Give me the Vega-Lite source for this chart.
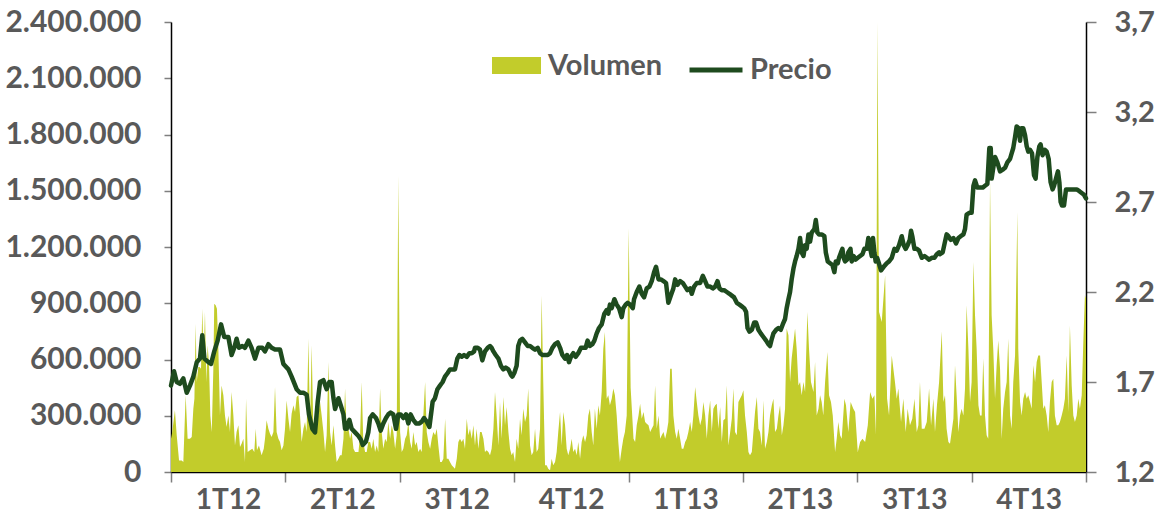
{
"$schema": "https://vega.github.io/schema/vega-lite/v6.json",
"width": 915, "height": 450,
"autosize": {"type": "none"},
"padding": {"left": 171, "top": 22, "right": 78, "bottom": 47},
"background": "white",
"config": {
  "locale": {"number": {"decimal": ",", "thousands": ".", "grouping": [3], "currency": ["", " €"]}},
  "view": {"stroke": null},
  "axis": {"grid": false, "labelFont": "Lato", "labelFontWeight": "bold", "labelColor": "#595959", "domainColor": "#000000", "domainWidth": 1.5, "tickColor": "#7f7f7f", "tickWidth": 1.5, "title": null}
},
"datasets": {
"vol": [
{"dia":0,"volumen":178000},{"dia":0.7,"volumen":213000},{"dia":2.2,"volumen":329000},{"dia":3.2,"volumen":196000},{"dia":4.5,"volumen":62000},{"dia":6.0,"volumen":62000},{"dia":6.9,"volumen":53000},{"dia":8.2,"volumen":409000},{"dia":9.3,"volumen":178000},{"dia":10.6,"volumen":178000},{"dia":11.6,"volumen":187000},{"dia":12.5,"volumen":338000},{"dia":13.1,"volumen":391000},{"dia":13.8,"volumen":791000},{"dia":14.4,"volumen":480000},{"dia":15.3,"volumen":560000},{"dia":16.0,"volumen":560000},{"dia":16.8,"volumen":551000},{"dia":17.5,"volumen":871000},{"dia":18.3,"volumen":605000},{"dia":19.0,"volumen":853000},{"dia":19.8,"volumen":480000},{"dia":20.5,"volumen":676000},{"dia":21.3,"volumen":569000},{"dia":22.0,"volumen":302000},{"dia":22.8,"volumen":213000},{"dia":23.7,"volumen":551000},{"dia":24.2,"volumen":898000},{"dia":25.0,"volumen":889000},{"dia":25.7,"volumen":871000},{"dia":26.5,"volumen":658000},{"dia":27.4,"volumen":302000},{"dia":28.3,"volumen":462000},{"dia":29.3,"volumen":409000},{"dia":30.2,"volumen":302000},{"dia":31.1,"volumen":240000},{"dia":32.1,"volumen":302000},{"dia":33.0,"volumen":213000},{"dia":33.9,"volumen":427000},{"dia":34.9,"volumen":302000},{"dia":35.8,"volumen":142000},{"dia":36.7,"volumen":213000},{"dia":37.7,"volumen":249000},{"dia":38.6,"volumen":133000},{"dia":39.5,"volumen":151000},{"dia":40.5,"volumen":178000},{"dia":41.4,"volumen":53000},{"dia":42.0,"volumen":391000},{"dia":42.9,"volumen":107000},{"dia":44.2,"volumen":116000},{"dia":45.5,"volumen":124000},{"dia":46.6,"volumen":107000},{"dia":47.4,"volumen":231000},{"dia":48.1,"volumen":116000},{"dia":49.2,"volumen":142000},{"dia":50.7,"volumen":89000},{"dia":51.9,"volumen":124000},{"dia":52.6,"volumen":178000},{"dia":53.5,"volumen":276000},{"dia":54.5,"volumen":231000},{"dia":55.4,"volumen":204000},{"dia":56.3,"volumen":187000},{"dia":57.3,"volumen":213000},{"dia":58.2,"volumen":453000},{"dia":59.1,"volumen":213000},{"dia":60.1,"volumen":178000},{"dia":61.0,"volumen":160000},{"dia":61.9,"volumen":116000},{"dia":62.9,"volumen":142000},{"dia":63.8,"volumen":231000},{"dia":64.7,"volumen":382000},{"dia":65.7,"volumen":284000},{"dia":66.6,"volumen":213000},{"dia":67.5,"volumen":311000},{"dia":68.5,"volumen":356000},{"dia":69.4,"volumen":320000},{"dia":70.3,"volumen":400000},{"dia":71.3,"volumen":409000},{"dia":72.2,"volumen":302000},{"dia":73.1,"volumen":160000},{"dia":74.1,"volumen":231000},{"dia":75.0,"volumen":267000},{"dia":75.9,"volumen":213000},{"dia":76.9,"volumen":711000},{"dia":77.8,"volumen":231000},{"dia":78.7,"volumen":676000},{"dia":79.6,"volumen":249000},{"dia":80.6,"volumen":302000},{"dia":81.5,"volumen":267000},{"dia":82.4,"volumen":302000},
{"dia":83.4,"volumen":373000},{"dia":84.3,"volumen":302000},{"dia":85.3,"volumen":213000},{"dia":86.2,"volumen":107000},{"dia":87.1,"volumen":196000},{"dia":88.1,"volumen":587000},{"dia":89.0,"volumen":213000},{"dia":89.9,"volumen":142000},{"dia":90.9,"volumen":249000},{"dia":91.8,"volumen":142000},{"dia":92.7,"volumen":53000},{"dia":93.7,"volumen":71000},{"dia":94.6,"volumen":89000},{"dia":95.5,"volumen":89000},{"dia":96.5,"volumen":178000},{"dia":97.4,"volumen":445000},{"dia":98.3,"volumen":213000},{"dia":99.3,"volumen":231000},{"dia":100.2,"volumen":178000},{"dia":101.1,"volumen":213000},{"dia":102.1,"volumen":124000},{"dia":103.0,"volumen":107000},{"dia":103.9,"volumen":107000},{"dia":104.9,"volumen":107000},{"dia":105.8,"volumen":196000},{"dia":106.7,"volumen":480000},{"dia":107.6,"volumen":160000},{"dia":108.6,"volumen":107000},{"dia":109.5,"volumen":107000},{"dia":110.4,"volumen":160000},{"dia":111.4,"volumen":160000},{"dia":112.3,"volumen":124000},{"dia":113.2,"volumen":178000},{"dia":114.2,"volumen":107000},{"dia":115.1,"volumen":142000},{"dia":116.0,"volumen":107000},{"dia":117.0,"volumen":445000},{"dia":117.9,"volumen":213000},{"dia":118.8,"volumen":124000},{"dia":119.8,"volumen":178000},{"dia":120.7,"volumen":160000},{"dia":121.6,"volumen":267000},{"dia":122.6,"volumen":178000},{"dia":123.5,"volumen":249000},{"dia":124.4,"volumen":213000},{"dia":125.4,"volumen":124000},{"dia":126.3,"volumen":196000},{"dia":127.2,"volumen":1580000},{"dia":128.2,"volumen":213000},{"dia":129.1,"volumen":107000},{"dia":130.0,"volumen":124000},{"dia":131.0,"volumen":178000},{"dia":131.9,"volumen":196000},{"dia":132.8,"volumen":267000},{"dia":133.8,"volumen":160000},{"dia":134.7,"volumen":124000},{"dia":135.6,"volumen":213000},{"dia":136.6,"volumen":142000},{"dia":137.5,"volumen":160000},{"dia":138.4,"volumen":107000},{"dia":139.4,"volumen":124000},{"dia":140.3,"volumen":107000},{"dia":141.2,"volumen":302000},{"dia":142.2,"volumen":480000},{"dia":143.1,"volumen":213000},{"dia":144.0,"volumen":160000},{"dia":145.0,"volumen":124000},{"dia":145.9,"volumen":178000},{"dia":146.8,"volumen":213000},{"dia":147.8,"volumen":196000},{"dia":148.7,"volumen":231000},{"dia":149.6,"volumen":142000},{"dia":150.6,"volumen":53000},{"dia":151.5,"volumen":53000},{"dia":152.4,"volumen":71000},{"dia":153.4,"volumen":284000},{"dia":154.3,"volumen":71000},{"dia":155.2,"volumen":71000},{"dia":156.1,"volumen":53000},{"dia":157.1,"volumen":36000},{"dia":158.0,"volumen":27000},{"dia":158.9,"volumen":18000},{"dia":159.9,"volumen":71000},{"dia":160.8,"volumen":160000},{"dia":161.7,"volumen":178000},{"dia":162.7,"volumen":160000},{"dia":163.6,"volumen":178000},{"dia":164.5,"volumen":124000},{"dia":165.5,"volumen":284000},{"dia":166.4,"volumen":196000},{"dia":167.3,"volumen":231000},{"dia":168.3,"volumen":178000},{"dia":169.2,"volumen":249000},
{"dia":170.1,"volumen":142000},{"dia":171.0,"volumen":231000},{"dia":172.0,"volumen":124000},{"dia":172.9,"volumen":213000},{"dia":173.8,"volumen":213000},{"dia":174.8,"volumen":178000},{"dia":175.7,"volumen":107000},{"dia":176.6,"volumen":116000},{"dia":177.6,"volumen":107000},{"dia":178.5,"volumen":89000},{"dia":179.4,"volumen":124000},{"dia":180.4,"volumen":231000},{"dia":181.3,"volumen":427000},{"dia":182.2,"volumen":302000},{"dia":183.2,"volumen":142000},{"dia":184.1,"volumen":373000},{"dia":185.0,"volumen":178000},{"dia":186.0,"volumen":400000},{"dia":186.9,"volumen":249000},{"dia":187.8,"volumen":347000},{"dia":188.8,"volumen":213000},{"dia":189.7,"volumen":124000},{"dia":190.6,"volumen":89000},{"dia":191.5,"volumen":107000},{"dia":192.5,"volumen":53000},{"dia":193.4,"volumen":178000},{"dia":194.3,"volumen":124000},{"dia":195.3,"volumen":284000},{"dia":196.2,"volumen":196000},{"dia":197.1,"volumen":338000},{"dia":198.1,"volumen":267000},{"dia":199.0,"volumen":302000},{"dia":199.9,"volumen":445000},{"dia":200.9,"volumen":142000},{"dia":201.8,"volumen":89000},{"dia":202.7,"volumen":107000},{"dia":203.7,"volumen":231000},{"dia":204.6,"volumen":107000},{"dia":205.5,"volumen":124000},{"dia":206.5,"volumen":231000},{"dia":207.4,"volumen":942000},{"dia":208.3,"volumen":480000},{"dia":209.3,"volumen":36000},{"dia":210.2,"volumen":36000},{"dia":211.1,"volumen":18000},{"dia":212.1,"volumen":9000},{"dia":213.0,"volumen":71000},{"dia":213.9,"volumen":36000},{"dia":214.9,"volumen":53000},{"dia":215.8,"volumen":107000},{"dia":216.7,"volumen":213000},{"dia":217.7,"volumen":320000},{"dia":218.6,"volumen":142000},{"dia":219.5,"volumen":320000},{"dia":220.5,"volumen":249000},{"dia":221.4,"volumen":124000},{"dia":222.3,"volumen":89000},{"dia":223.3,"volumen":124000},{"dia":224.2,"volumen":178000},{"dia":225.1,"volumen":107000},{"dia":226.1,"volumen":124000},{"dia":227.0,"volumen":89000},{"dia":227.9,"volumen":160000},{"dia":228.9,"volumen":71000},{"dia":229.8,"volumen":160000},{"dia":230.7,"volumen":196000},{"dia":231.7,"volumen":160000},{"dia":232.6,"volumen":196000},{"dia":233.5,"volumen":302000},{"dia":234.4,"volumen":338000},{"dia":235.4,"volumen":213000},{"dia":236.3,"volumen":142000},{"dia":237.2,"volumen":338000},{"dia":238.2,"volumen":231000},{"dia":239.1,"volumen":356000},{"dia":240.0,"volumen":302000},{"dia":241.0,"volumen":427000},{"dia":241.9,"volumen":658000},{"dia":242.8,"volumen":747000},{"dia":243.8,"volumen":391000},{"dia":244.7,"volumen":409000},{"dia":245.6,"volumen":356000},{"dia":246.6,"volumen":391000},{"dia":247.5,"volumen":445000},{"dia":248.4,"volumen":409000},{"dia":249.4,"volumen":302000},{"dia":250.3,"volumen":160000},{"dia":251.2,"volumen":53000},{"dia":252.2,"volumen":124000},{"dia":253.1,"volumen":178000},{"dia":254.0,"volumen":213000},{"dia":255.0,"volumen":302000},{"dia":256.1,"volumen":1300000},{"dia":257.2,"volumen":450000},
{"dia":258.8,"volumen":178000},{"dia":259.7,"volumen":160000},{"dia":260.6,"volumen":249000},{"dia":261.6,"volumen":302000},{"dia":262.5,"volumen":364000},{"dia":263.4,"volumen":284000},{"dia":264.4,"volumen":320000},{"dia":265.3,"volumen":267000},{"dia":266.2,"volumen":258000},{"dia":267.2,"volumen":249000},{"dia":268.1,"volumen":213000},{"dia":269.0,"volumen":231000},{"dia":270.0,"volumen":249000},{"dia":270.9,"volumen":462000},{"dia":271.8,"volumen":231000},{"dia":272.8,"volumen":302000},{"dia":273.7,"volumen":178000},{"dia":274.6,"volumen":196000},{"dia":275.6,"volumen":213000},{"dia":276.5,"volumen":178000},{"dia":277.4,"volumen":213000},{"dia":278.3,"volumen":267000},{"dia":279.3,"volumen":551000},{"dia":280.2,"volumen":551000},{"dia":281.1,"volumen":302000},{"dia":282.1,"volumen":213000},{"dia":283.0,"volumen":178000},{"dia":283.9,"volumen":231000},{"dia":284.9,"volumen":178000},{"dia":285.8,"volumen":124000},{"dia":286.7,"volumen":124000},{"dia":287.7,"volumen":160000},{"dia":288.6,"volumen":178000},{"dia":289.5,"volumen":213000},{"dia":290.5,"volumen":267000},{"dia":291.4,"volumen":213000},{"dia":292.3,"volumen":302000},{"dia":293.3,"volumen":453000},{"dia":294.2,"volumen":373000},{"dia":295.1,"volumen":302000},{"dia":296.1,"volumen":249000},{"dia":297.0,"volumen":284000},{"dia":297.9,"volumen":373000},{"dia":298.9,"volumen":302000},{"dia":299.8,"volumen":178000},{"dia":300.7,"volumen":302000},{"dia":301.7,"volumen":382000},{"dia":302.6,"volumen":213000},{"dia":303.5,"volumen":338000},{"dia":304.5,"volumen":356000},{"dia":305.4,"volumen":364000},{"dia":306.3,"volumen":231000},{"dia":307.3,"volumen":347000},{"dia":308.2,"volumen":160000},{"dia":309.1,"volumen":276000},{"dia":310.1,"volumen":284000},{"dia":311.0,"volumen":462000},{"dia":311.9,"volumen":142000},{"dia":312.9,"volumen":213000},{"dia":313.8,"volumen":284000},{"dia":314.7,"volumen":445000},{"dia":315.6,"volumen":213000},{"dia":316.6,"volumen":196000},{"dia":317.5,"volumen":373000},{"dia":318.4,"volumen":391000},{"dia":319.4,"volumen":409000},{"dia":320.3,"volumen":436000},{"dia":321.2,"volumen":302000},{"dia":322.2,"volumen":213000},{"dia":323.1,"volumen":107000},{"dia":324.0,"volumen":89000},{"dia":325.0,"volumen":107000},{"dia":325.9,"volumen":213000},{"dia":326.8,"volumen":320000},{"dia":327.8,"volumen":400000},{"dia":328.7,"volumen":231000},{"dia":329.6,"volumen":213000},{"dia":330.6,"volumen":142000},{"dia":331.5,"volumen":382000},{"dia":332.4,"volumen":124000},{"dia":333.4,"volumen":160000},{"dia":334.3,"volumen":213000},{"dia":335.2,"volumen":302000},{"dia":336.2,"volumen":356000},{"dia":337.1,"volumen":391000},{"dia":338.0,"volumen":213000},{"dia":339.0,"volumen":231000},{"dia":339.9,"volumen":302000},{"dia":340.8,"volumen":356000},{"dia":341.8,"volumen":196000},{"dia":342.7,"volumen":249000},{"dia":343.6,"volumen":338000},
{"dia":344.5,"volumen":765000},{"dia":345.5,"volumen":729000},{"dia":346.4,"volumen":480000},{"dia":347.3,"volumen":605000},{"dia":349.2,"volumen":765000},{"dia":350.1,"volumen":658000},{"dia":351.1,"volumen":462000},{"dia":352.0,"volumen":480000},{"dia":352.9,"volumen":409000},{"dia":353.9,"volumen":480000},{"dia":354.8,"volumen":427000},{"dia":356.1,"volumen":853000},{"dia":357.0,"volumen":658000},{"dia":358.1,"volumen":480000},{"dia":359.5,"volumen":427000},{"dia":360.4,"volumen":587000},{"dia":361.3,"volumen":302000},{"dia":362.3,"volumen":338000},{"dia":363.2,"volumen":409000},{"dia":364.1,"volumen":373000},{"dia":365.0,"volumen":302000},{"dia":366.0,"volumen":480000},{"dia":367.3,"volumen":640000},{"dia":368.2,"volumen":409000},{"dia":369.3,"volumen":373000},{"dia":370.3,"volumen":302000},{"dia":371.6,"volumen":107000},{"dia":372.5,"volumen":178000},{"dia":373.4,"volumen":267000},{"dia":374.4,"volumen":196000},{"dia":375.3,"volumen":178000},{"dia":376.8,"volumen":391000},{"dia":377.7,"volumen":356000},{"dia":379.0,"volumen":213000},{"dia":380.3,"volumen":373000},{"dia":381.8,"volumen":338000},{"dia":382.8,"volumen":320000},{"dia":384.3,"volumen":107000},{"dia":385.6,"volumen":160000},{"dia":386.9,"volumen":178000},{"dia":388.4,"volumen":160000},{"dia":389.9,"volumen":249000},{"dia":391.2,"volumen":427000},{"dia":392.5,"volumen":391000},{"dia":393.6,"volumen":409000},{"dia":394.5,"volumen":196000},{"dia":395.3,"volumen":2400000},{"dia":396.2,"volumen":853000},{"dia":397.7,"volumen":800000},{"dia":399.6,"volumen":1049000},{"dia":400.7,"volumen":391000},{"dia":401.8,"volumen":302000},{"dia":403.3,"volumen":622000},{"dia":404.2,"volumen":551000},{"dia":405.1,"volumen":480000},{"dia":406.1,"volumen":391000},{"dia":407.0,"volumen":445000},{"dia":408.5,"volumen":267000},{"dia":409.8,"volumen":391000},{"dia":411.1,"volumen":213000},{"dia":412.2,"volumen":338000},{"dia":413.5,"volumen":249000},{"dia":414.8,"volumen":284000},{"dia":416.0,"volumen":391000},{"dia":417.3,"volumen":213000},{"dia":418.2,"volumen":249000},{"dia":419.1,"volumen":480000},{"dia":420.1,"volumen":231000},{"dia":421.6,"volumen":231000},{"dia":422.9,"volumen":267000},{"dia":424.2,"volumen":445000},{"dia":425.3,"volumen":249000},{"dia":426.6,"volumen":391000},{"dia":427.5,"volumen":213000},{"dia":428.6,"volumen":356000},{"dia":429.8,"volumen":480000},{"dia":431.3,"volumen":750000},
{"dia":432.2,"volumen":373000},{"dia":433.1,"volumen":409000},{"dia":434.0,"volumen":231000},{"dia":435.0,"volumen":160000},{"dia":435.9,"volumen":151000},{"dia":436.8,"volumen":213000},{"dia":437.8,"volumen":284000},{"dia":438.7,"volumen":569000},{"dia":439.6,"volumen":409000},{"dia":440.6,"volumen":213000},{"dia":441.5,"volumen":302000},{"dia":442.4,"volumen":338000},{"dia":443.4,"volumen":302000},{"dia":444.3,"volumen":445000},{"dia":445.2,"volumen":889000},{"dia":446.2,"volumen":658000},{"dia":447.1,"volumen":373000},{"dia":448.0,"volumen":480000},{"dia":449.0,"volumen":1120000},{"dia":449.9,"volumen":836000},{"dia":450.8,"volumen":658000},{"dia":451.8,"volumen":356000},{"dia":452.7,"volumen":302000},{"dia":453.6,"volumen":302000},{"dia":454.5,"volumen":605000},{"dia":455.5,"volumen":302000},{"dia":456.4,"volumen":196000},{"dia":457.3,"volumen":178000},{"dia":458.3,"volumen":1547000},{"dia":459.2,"volumen":836000},{"dia":460.1,"volumen":658000},{"dia":461.1,"volumen":391000},{"dia":462.0,"volumen":569000},{"dia":462.9,"volumen":702000},{"dia":463.9,"volumen":551000},{"dia":464.8,"volumen":178000},{"dia":465.7,"volumen":338000},{"dia":466.7,"volumen":427000},{"dia":467.6,"volumen":480000},{"dia":468.5,"volumen":711000},{"dia":469.5,"volumen":302000},{"dia":470.4,"volumen":231000},{"dia":471.3,"volumen":480000},{"dia":472.3,"volumen":622000},{"dia":473.6,"volumen":1387000},{"dia":474.1,"volumen":658000},{"dia":475.1,"volumen":373000},{"dia":476.0,"volumen":302000},{"dia":476.9,"volumen":391000},{"dia":477.9,"volumen":427000},{"dia":478.8,"volumen":391000},{"dia":479.7,"volumen":409000},{"dia":480.7,"volumen":373000},{"dia":481.6,"volumen":338000},{"dia":482.5,"volumen":569000},{"dia":483.5,"volumen":480000},{"dia":484.4,"volumen":587000},{"dia":485.3,"volumen":622000},{"dia":486.3,"volumen":622000},{"dia":487.2,"volumen":480000},{"dia":488.1,"volumen":338000},{"dia":489.0,"volumen":356000},{"dia":490.0,"volumen":302000},{"dia":490.9,"volumen":213000},{"dia":491.8,"volumen":373000},{"dia":492.8,"volumen":480000},{"dia":493.7,"volumen":498000},{"dia":494.6,"volumen":302000},{"dia":495.6,"volumen":249000},{"dia":496.5,"volumen":249000},{"dia":497.4,"volumen":267000},{"dia":498.4,"volumen":302000},{"dia":499.3,"volumen":338000},{"dia":500.2,"volumen":391000},{"dia":501.2,"volumen":622000},{"dia":502.1,"volumen":320000},{"dia":503.0,"volumen":782000},{"dia":504.0,"volumen":462000},{"dia":504.9,"volumen":302000},{"dia":505.8,"volumen":267000},{"dia":506.8,"volumen":302000},{"dia":507.7,"volumen":391000},{"dia":508.6,"volumen":338000},{"dia":509.6,"volumen":409000},{"dia":510.5,"volumen":693000},{"dia":511.4,"volumen":942000},{"dia":512,"volumen":925000}
],
"precio": [
{"dia":0,"precio":1.68},{"dia":1.7,"precio":1.76},{"dia":3.2,"precio":1.70},{"dia":5.0,"precio":1.69},{"dia":6.9,"precio":1.72},{"dia":8.8,"precio":1.64},{"dia":10.6,"precio":1.68},{"dia":12.5,"precio":1.73},{"dia":14.4,"precio":1.81},{"dia":16.2,"precio":1.83},{"dia":17.5,"precio":1.96},{"dia":18.7,"precio":1.83},{"dia":20.9,"precio":1.81},{"dia":22.4,"precio":1.80},{"dia":24.2,"precio":1.87},{"dia":26.1,"precio":1.93},{"dia":28.0,"precio":2.02},{"dia":29.8,"precio":1.95},{"dia":32.1,"precio":1.95},{"dia":33.9,"precio":1.85},{"dia":35.4,"precio":1.89},{"dia":36.7,"precio":1.94},{"dia":38.0,"precio":1.89},{"dia":39.9,"precio":1.90},{"dia":41.4,"precio":1.89},{"dia":43.3,"precio":1.93},{"dia":45.1,"precio":1.89},{"dia":47.0,"precio":1.83},{"dia":48.9,"precio":1.89},{"dia":51.1,"precio":1.89},{"dia":52.6,"precio":1.87},{"dia":54.5,"precio":1.91},{"dia":56.3,"precio":1.89},{"dia":58.2,"precio":1.88},{"dia":61.0,"precio":1.88},{"dia":62.9,"precio":1.80},{"dia":65.7,"precio":1.77},{"dia":67.5,"precio":1.73},{"dia":70.3,"precio":1.66},{"dia":72.2,"precio":1.64},{"dia":74.1,"precio":1.64},{"dia":75.9,"precio":1.63},{"dia":77.2,"precio":1.52},{"dia":79.1,"precio":1.44},{"dia":80.6,"precio":1.42},{"dia":82.1,"precio":1.59},
{"dia":83.4,"precio":1.70},{"dia":85.3,"precio":1.71},{"dia":87.1,"precio":1.66},{"dia":88.6,"precio":1.70},{"dia":89.9,"precio":1.70},{"dia":90.9,"precio":1.61},{"dia":91.8,"precio":1.55},{"dia":93.7,"precio":1.61},{"dia":95.0,"precio":1.57},{"dia":96.5,"precio":1.52},{"dia":97.4,"precio":1.44},{"dia":98.3,"precio":1.44},{"dia":99.8,"precio":1.49},{"dia":101.1,"precio":1.44},{"dia":103.0,"precio":1.42},{"dia":104.9,"precio":1.40},{"dia":106.2,"precio":1.38},{"dia":107.3,"precio":1.35},{"dia":109.1,"precio":1.37},{"dia":110.4,"precio":1.42},{"dia":111.4,"precio":1.50},{"dia":112.9,"precio":1.52},{"dia":114.7,"precio":1.50},{"dia":116.0,"precio":1.47},{"dia":117.3,"precio":1.43},{"dia":118.8,"precio":1.47},{"dia":120.3,"precio":1.50},{"dia":121.6,"precio":1.52},{"dia":122.9,"precio":1.53},{"dia":124.4,"precio":1.52},{"dia":125.9,"precio":1.44},{"dia":127.2,"precio":1.52},{"dia":128.5,"precio":1.52},{"dia":130.0,"precio":1.50},{"dia":131.5,"precio":1.52},{"dia":132.8,"precio":1.47},{"dia":134.1,"precio":1.52},{"dia":135.6,"precio":1.49},{"dia":137.1,"precio":1.47},{"dia":139.0,"precio":1.47},{"dia":140.3,"precio":1.48},{"dia":141.6,"precio":1.50},{"dia":143.1,"precio":1.48},{"dia":144.6,"precio":1.45},{"dia":145.5,"precio":1.52},{"dia":146.4,"precio":1.59},{"dia":147.7,"precio":1.61},{"dia":149.1,"precio":1.66},{"dia":150.5,"precio":1.68},{"dia":152.0,"precio":1.70},{"dia":153.3,"precio":1.73},{"dia":154.8,"precio":1.75},{"dia":156.1,"precio":1.77},{"dia":157.6,"precio":1.77},{"dia":158.9,"precio":1.77},{"dia":160.2,"precio":1.83},{"dia":161.4,"precio":1.85},{"dia":162.7,"precio":1.84},{"dia":164.0,"precio":1.85},{"dia":165.5,"precio":1.84},{"dia":167.0,"precio":1.86},{"dia":168.3,"precio":1.86},{"dia":169.6,"precio":1.87},
{"dia":170.1,"precio":1.89},{"dia":171.6,"precio":1.89},{"dia":172.9,"precio":1.88},{"dia":174.2,"precio":1.82},{"dia":175.7,"precio":1.87},{"dia":177.2,"precio":1.89},{"dia":178.5,"precio":1.90},{"dia":179.4,"precio":1.89},{"dia":180.4,"precio":1.87},{"dia":181.7,"precio":1.85},{"dia":183.2,"precio":1.83},{"dia":184.6,"precio":1.79},{"dia":185.9,"precio":1.77},{"dia":187.3,"precio":1.78},{"dia":188.8,"precio":1.77},{"dia":190.2,"precio":1.74},{"dia":191.0,"precio":1.73},{"dia":192.1,"precio":1.75},{"dia":193.4,"precio":1.79},{"dia":194.3,"precio":1.90},{"dia":195.3,"precio":1.93},{"dia":196.6,"precio":1.94},{"dia":198.1,"precio":1.92},{"dia":199.6,"precio":1.90},{"dia":200.9,"precio":1.90},{"dia":202.2,"precio":1.89},{"dia":203.7,"precio":1.88},{"dia":205.2,"precio":1.89},{"dia":206.5,"precio":1.86},{"dia":207.8,"precio":1.85},{"dia":209.3,"precio":1.85},{"dia":210.8,"precio":1.85},{"dia":212.1,"precio":1.86},{"dia":213.4,"precio":1.89},{"dia":214.9,"precio":1.91},{"dia":216.4,"precio":1.92},{"dia":217.7,"precio":1.89},{"dia":219.0,"precio":1.85},{"dia":220.5,"precio":1.83},{"dia":221.6,"precio":1.85},{"dia":222.7,"precio":1.81},{"dia":223.8,"precio":1.84},{"dia":225.1,"precio":1.86},{"dia":226.4,"precio":1.84},{"dia":227.9,"precio":1.86},{"dia":229.4,"precio":1.89},{"dia":230.7,"precio":1.89},{"dia":232.0,"precio":1.89},{"dia":233.1,"precio":1.93},{"dia":234.4,"precio":1.90},{"dia":235.8,"precio":1.91},{"dia":236.9,"precio":1.93},{"dia":238.2,"precio":1.97},{"dia":239.5,"precio":2.00},{"dia":241.0,"precio":2.02},{"dia":242.5,"precio":2.08},{"dia":243.8,"precio":2.10},{"dia":244.7,"precio":2.08},{"dia":245.6,"precio":2.13},{"dia":246.6,"precio":2.11},{"dia":248.1,"precio":2.16},{"dia":249.4,"precio":2.13},{"dia":250.7,"precio":2.11},{"dia":252.2,"precio":2.06},{"dia":253.1,"precio":2.11},{"dia":254.4,"precio":2.13},{"dia":255.5,"precio":2.14},
{"dia":256.9,"precio":2.13},{"dia":258.4,"precio":2.11},{"dia":259.1,"precio":2.16},{"dia":260.6,"precio":2.20},{"dia":262.1,"precio":2.23},{"dia":263.4,"precio":2.19},{"dia":264.7,"precio":2.17},{"dia":266.2,"precio":2.22},{"dia":267.7,"precio":2.23},{"dia":269.0,"precio":2.26},{"dia":270.3,"precio":2.31},{"dia":271.4,"precio":2.34},{"dia":272.8,"precio":2.27},{"dia":274.1,"precio":2.27},{"dia":275.6,"precio":2.26},{"dia":277.0,"precio":2.25},{"dia":278.3,"precio":2.14},{"dia":279.7,"precio":2.18},{"dia":281.1,"precio":2.22},{"dia":282.1,"precio":2.27},{"dia":283.4,"precio":2.24},{"dia":284.9,"precio":2.26},{"dia":286.4,"precio":2.25},{"dia":287.7,"precio":2.23},{"dia":289.0,"precio":2.21},{"dia":290.5,"precio":2.22},{"dia":291.4,"precio":2.19},{"dia":292.7,"precio":2.23},{"dia":294.2,"precio":2.25},{"dia":296.1,"precio":2.25},{"dia":297.6,"precio":2.29},{"dia":298.9,"precio":2.26},{"dia":300.2,"precio":2.23},{"dia":301.7,"precio":2.23},{"dia":303.2,"precio":2.22},{"dia":304.5,"precio":2.23},{"dia":305.8,"precio":2.26},{"dia":306.9,"precio":2.22},{"dia":308.2,"precio":2.21},{"dia":309.5,"precio":2.21},{"dia":311.0,"precio":2.20},{"dia":312.5,"precio":2.19},{"dia":313.8,"precio":2.18},{"dia":315.1,"precio":2.17},{"dia":316.6,"precio":2.14},{"dia":318.1,"precio":2.13},{"dia":319.4,"precio":2.12},{"dia":320.7,"precio":2.11},{"dia":321.8,"precio":2.09},{"dia":322.6,"precio":2.00},{"dia":323.7,"precio":1.98},{"dia":325.0,"precio":1.99},{"dia":326.3,"precio":2.03},{"dia":327.4,"precio":2.03},{"dia":328.7,"precio":1.99},{"dia":330.0,"precio":1.97},{"dia":331.5,"precio":1.95},{"dia":333.0,"precio":1.93},{"dia":334.3,"precio":1.91},{"dia":335.2,"precio":1.90},{"dia":336.2,"precio":1.94},{"dia":337.1,"precio":1.97},{"dia":338.6,"precio":1.99},{"dia":339.9,"precio":2.00},{"dia":341.2,"precio":1.99},{"dia":342.3,"precio":2.02},
{"dia":343.6,"precio":2.05},{"dia":344.5,"precio":2.11},{"dia":345.5,"precio":2.16},{"dia":346.4,"precio":2.20},{"dia":347.3,"precio":2.27},{"dia":348.3,"precio":2.33},{"dia":349.2,"precio":2.37},{"dia":350.1,"precio":2.40},{"dia":351.1,"precio":2.44},{"dia":352.0,"precio":2.50},{"dia":352.9,"precio":2.42},{"dia":353.9,"precio":2.40},{"dia":354.8,"precio":2.46},{"dia":355.7,"precio":2.44},{"dia":356.7,"precio":2.52},{"dia":357.6,"precio":2.48},{"dia":358.5,"precio":2.53},{"dia":360.0,"precio":2.55},{"dia":360.8,"precio":2.60},{"dia":361.7,"precio":2.53},{"dia":362.6,"precio":2.52},{"dia":364.1,"precio":2.52},{"dia":365.6,"precio":2.51},{"dia":366.4,"precio":2.42},{"dia":367.5,"precio":2.37},{"dia":368.8,"precio":2.36},{"dia":370.1,"precio":2.35},{"dia":371.2,"precio":2.31},{"dia":372.0,"precio":2.37},{"dia":373.1,"precio":2.36},{"dia":373.8,"precio":2.39},{"dia":374.9,"precio":2.42},{"dia":375.7,"precio":2.44},{"dia":376.4,"precio":2.39},{"dia":377.2,"precio":2.37},{"dia":378.3,"precio":2.38},{"dia":379.0,"precio":2.42},{"dia":380.2,"precio":2.44},{"dia":380.9,"precio":2.37},{"dia":382.0,"precio":2.40},{"dia":383.1,"precio":2.38},{"dia":384.3,"precio":2.39},{"dia":385.6,"precio":2.40},{"dia":386.9,"precio":2.41},{"dia":388.0,"precio":2.44},{"dia":389.3,"precio":2.44},{"dia":390.2,"precio":2.50},{"dia":391.3,"precio":2.44},{"dia":392.1,"precio":2.40},{"dia":392.8,"precio":2.50},{"dia":393.6,"precio":2.42},{"dia":394.3,"precio":2.37},{"dia":395.1,"precio":2.39},{"dia":395.8,"precio":2.37},{"dia":397.3,"precio":2.32},{"dia":398.8,"precio":2.34},{"dia":400.5,"precio":2.36},{"dia":401.8,"precio":2.37},{"dia":403.3,"precio":2.39},{"dia":404.8,"precio":2.44},{"dia":406.1,"precio":2.43},{"dia":407.4,"precio":2.46},{"dia":408.9,"precio":2.51},{"dia":410.0,"precio":2.46},{"dia":411.1,"precio":2.44},{"dia":412.2,"precio":2.46},{"dia":413.4,"precio":2.49},{"dia":414.1,"precio":2.54},{"dia":414.8,"precio":2.51},{"dia":416.0,"precio":2.44},{"dia":417.3,"precio":2.44},{"dia":418.6,"precio":2.43},{"dia":420.1,"precio":2.39},{"dia":421.6,"precio":2.40},{"dia":422.9,"precio":2.39},{"dia":424.2,"precio":2.38},{"dia":425.7,"precio":2.39},{"dia":427.2,"precio":2.39},{"dia":428.5,"precio":2.41},{"dia":429.8,"precio":2.42},
{"dia":430.3,"precio":2.41},{"dia":431.8,"precio":2.42},{"dia":433.1,"precio":2.48},{"dia":434.0,"precio":2.52},{"dia":435.0,"precio":2.51},{"dia":436.3,"precio":2.49},{"dia":437.8,"precio":2.50},{"dia":439.3,"precio":2.47},{"dia":440.6,"precio":2.50},{"dia":441.9,"precio":2.51},{"dia":443.4,"precio":2.52},{"dia":444.3,"precio":2.55},{"dia":445.2,"precio":2.63},{"dia":446.7,"precio":2.64},{"dia":448.0,"precio":2.64},{"dia":449.0,"precio":2.79},{"dia":449.9,"precio":2.82},{"dia":451.2,"precio":2.78},{"dia":452.7,"precio":2.78},{"dia":454.2,"precio":2.78},{"dia":455.5,"precio":2.79},{"dia":456.8,"precio":2.80},{"dia":457.9,"precio":3.00},{"dia":458.7,"precio":3.00},{"dia":459.2,"precio":2.83},{"dia":460.1,"precio":2.89},{"dia":461.1,"precio":2.95},{"dia":462.4,"precio":2.92},{"dia":463.9,"precio":2.87},{"dia":465.4,"precio":2.88},{"dia":466.7,"precio":2.89},{"dia":468.0,"precio":2.92},{"dia":469.5,"precio":2.94},{"dia":470.4,"precio":2.97},{"dia":471.3,"precio":3.00},{"dia":472.3,"precio":3.06},{"dia":473.2,"precio":3.12},{"dia":474.3,"precio":3.11},{"dia":475.1,"precio":3.04},{"dia":475.8,"precio":3.11},{"dia":476.9,"precio":3.11},{"dia":477.9,"precio":3.07},{"dia":478.8,"precio":3.01},{"dia":479.7,"precio":2.98},{"dia":480.7,"precio":2.99},{"dia":481.8,"precio":2.97},{"dia":482.9,"precio":2.85},{"dia":483.8,"precio":2.83},{"dia":484.8,"precio":2.95},{"dia":485.9,"precio":3.01},{"dia":486.6,"precio":3.02},{"dia":487.7,"precio":2.96},{"dia":489.0,"precio":2.99},{"dia":490.0,"precio":2.98},{"dia":491.1,"precio":2.94},{"dia":492.2,"precio":2.81},{"dia":493.3,"precio":2.77},{"dia":494.1,"precio":2.79},{"dia":495.2,"precio":2.83},{"dia":496.3,"precio":2.87},{"dia":497.1,"precio":2.81},{"dia":497.8,"precio":2.70},{"dia":498.6,"precio":2.68},{"dia":499.7,"precio":2.68},{"dia":500.8,"precio":2.77},{"dia":501.5,"precio":2.77},{"dia":502.7,"precio":2.77},{"dia":504.0,"precio":2.77},{"dia":505.3,"precio":2.77},{"dia":506.8,"precio":2.77},{"dia":508.3,"precio":2.76},{"dia":509.6,"precio":2.75},{"dia":510.9,"precio":2.74},{"dia":512,"precio":2.72}
]
},
"layer": [
{
  "data": {"name": "vol"},
  "mark": {"type": "area", "interpolate": "linear"},
  "encoding": {
    "x": {"field": "dia", "type": "quantitative",
      "scale": {"domain": [0, 512], "nice": false, "zero": false},
      "axis": {"values": [0, 64, 128, 192, 256, 320, 384, 448, 512], "labelExpr": "datum.value >= 512 ? '' : ['1T12','2T12','3T12','4T12','1T13','2T13','3T13','4T13'][floor(datum.value/64)]", "labelOffset": 57, "labelFontSize": 28, "labelPadding": 4, "tickSize": 10, "labelFlush": false, "labelOverlap": false, "labelBound": false}},
    "y": {"field": "volumen", "type": "quantitative",
      "scale": {"domain": [0, 2400000], "nice": false},
      "axis": {"orient": "left", "values": [0, 300000, 600000, 900000, 1200000, 1500000, 1800000, 2100000, 2400000], "format": ",d", "labelFontSize": 30, "tickSize": 7, "labelPadding": 23}},
    "fill": {"datum": "Volumen", "type": "nominal",
      "scale": {"domain": ["Volumen"], "range": ["#c2cc2b"]},
      "legend": {"orient": "none", "legendX": 321, "legendY": 19, "title": null, "padding": 0, "symbolType": "M-1,-0.35H1V0.35H-1Z", "symbolSize": 2401, "symbolStrokeWidth": 0, "labelFont": "Lato", "labelFontSize": 29, "labelFontWeight": "bold", "labelColor": "#595959", "labelOffset": 7}}
  }
},
{
  "data": {"name": "precio"},
  "mark": {"type": "line", "interpolate": "linear", "strokeWidth": 4.5, "strokeJoin": "round", "strokeCap": "round"},
  "encoding": {
    "x": {"field": "dia", "type": "quantitative"},
    "y": {"field": "precio", "type": "quantitative",
      "scale": {"domain": [1.2, 3.7], "nice": false, "zero": false},
      "axis": {"orient": "right", "values": [1.2, 1.7, 2.2, 2.7, 3.2, 3.7], "format": ".1f", "labelFontSize": 29, "tickSize": 10, "labelPadding": 18}},
    "stroke": {"datum": "Precio", "type": "nominal",
      "scale": {"domain": ["Precio"], "range": ["#1e4b1e"]},
      "legend": {"orient": "none", "legendX": 516, "legendY": 19, "title": null, "padding": 0, "symbolType": "stroke", "symbolSize": 2809, "symbolStrokeWidth": 5, "labelFont": "Lato", "labelFontSize": 29, "labelFontWeight": "bold", "labelColor": "#595959", "labelOffset": 5}}
  }
}
],
"resolve": {"scale": {"y": "independent", "fill": "independent", "stroke": "independent"}}
}
